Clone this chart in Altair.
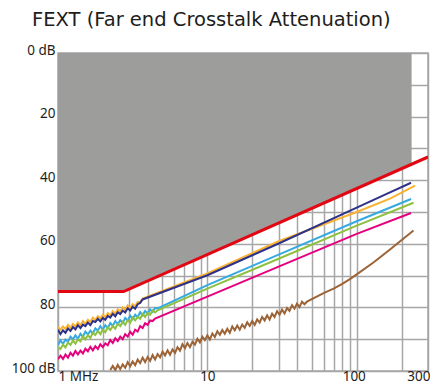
import altair as alt
import pandas as pd

# Frequency sample grid (MHz) used by the measured, noisy low-frequency parts
FREQ_GRID = [
    1.000, 1.039, 1.080, 1.122, 1.166, 1.212, 1.259, 1.308, 1.359, 1.413,
    1.468, 1.525, 1.585, 1.647, 1.711, 1.778, 1.848, 1.920, 1.995, 2.073,
    2.154, 2.239, 2.326, 2.418, 2.512, 2.610, 2.712, 2.818, 2.929, 3.043,
    3.162, 3.286, 3.415, 3.548, 3.687, 3.831, 3.981, 4.137, 4.299, 4.467,
    4.642, 4.824, 5.012, 5.208, 5.412, 5.623, 5.843, 6.072, 6.310, 6.556,
    6.813, 7.079, 7.356, 7.644, 7.943, 8.254, 8.577, 8.913, 9.261, 9.624,
    10.00, 10.39, 10.80, 11.22, 11.66, 12.12, 12.59, 13.08, 13.59, 14.13,
    14.68, 15.25, 15.85, 16.47, 17.11, 17.78, 18.48, 19.20, 19.95, 20.73,
    21.54, 22.39, 23.26, 24.18, 25.12, 26.10, 27.12, 28.18, 29.29, 30.43,
    31.62, 32.86, 34.15, 35.48, 36.87, 38.31, 39.81, 41.37, 42.99, 44.67,
    46.42,
]

# Limit line (dB) and shaded forbidden region
LIMIT_F = [1, 2.75, 300]
LIMIT_DB = [75, 75, 32.7]
AREA_F = [1, 2.75, 233]
AREA_DB = [75, 75, 35.0]

# Orange (starts at grid index 0)
ORANGE_NOISY = [86.2, 87.0, 86.0, 86.8, 85.5, 86.4, 85.2, 86.0, 84.7, 85.6,
                84.3, 85.2, 83.9, 84.6, 83.2, 84.0, 82.8, 83.5, 82.3, 83.0,
                81.8, 82.5, 81.2, 82.0, 80.6, 81.3, 80.0, 80.8, 79.4, 80.2,
                79.0, 79.6, 78.3, 78.4, 77.2]
ORANGE_F = [10, 30, 100, 167, 246]
ORANGE_DB = [69.3, 59.2, 50.0, 45.8, 41.7]

# Navy (starts at grid index 0)
NAVY_NOISY = [87.0, 88.4, 87.2, 88.0, 86.6, 87.4, 86.2, 86.9, 85.6, 86.5,
              85.4, 85.9, 84.8, 85.6, 84.3, 84.6, 83.6, 84.4, 83.3, 83.9,
              82.7, 83.2, 82.0, 82.8, 81.5, 82.1, 81.0, 81.6, 80.3, 81.0,
              79.8, 80.4, 79.0, 78.6, 77.5]
NAVY_F = [10, 30, 100, 160, 231]
NAVY_DB = [69.9, 59.9, 48.6, 44.2, 40.8]

# Cyan (starts at grid index 0)
CYAN_NOISY = [91.8, 90.4, 91.5, 90.1, 90.8, 89.2, 90.0, 88.8, 89.9, 88.3,
              89.2, 87.6, 88.5, 87.3, 88.2, 86.6, 87.3, 85.9, 87.0, 85.6,
              86.5, 84.9, 85.8, 84.3, 85.3, 84.0, 84.9, 83.3, 84.1, 82.6,
              83.7, 82.3, 83.1, 81.5, 82.5, 81.1, 82.0, 80.6, 81.4, 80.2,
              80.3]
CYAN_F = [10, 30, 100, 231]
CYAN_DB = [73.0, 63.4, 52.9, 45.9]

# Green (starts at grid index 0)
GREEN_NOISY = [92.5, 93.1, 91.7, 92.6, 91.0, 91.8, 90.4, 91.4, 90.0, 90.7,
               89.1, 90.0, 88.7, 89.6, 88.0, 88.7, 87.4, 88.4, 87.0, 87.8,
               86.2, 87.1, 85.9, 86.7, 85.1, 85.9, 84.5, 85.5, 84.0, 84.8,
               83.2, 84.1, 82.9, 83.6, 82.1, 83.0, 81.6, 82.3, 81.0, 81.6,
               80.9]
GREEN_F = [10, 30, 100, 240]
GREEN_DB = [74.1, 64.7, 54.3, 47.1]

# Magenta (starts at grid index 0)
MAGENTA_NOISY = [96.3, 95.2, 96.2, 94.8, 95.8, 94.3, 95.2, 93.7, 94.8, 93.6,
                 94.5, 93.0, 93.8, 92.4, 93.5, 92.2, 93.1, 91.6, 92.5, 91.3,
                 91.9, 90.3, 91.2, 89.7, 90.6, 89.2, 90.0, 88.4, 89.2, 87.7,
                 88.6, 87.0, 87.6, 85.9, 86.5, 85.0, 85.5, 84.1, 84.3, 83.5]
MAGENTA_F = [10, 30, 100, 231]
MAGENTA_DB = [76.6, 67.2, 56.9, 50.3]

# Brown (starts at grid index 21)
BROWN_START = 21
BROWN_NOISY = [99.7, 98.4, 99.7, 98.1, 99.4, 97.9, 99.0, 97.2, 98.5, 97.0,
               98.2, 96.4, 97.5, 95.8, 97.2, 95.6, 96.8, 95.0, 96.4, 94.7,
               95.7, 93.9, 95.1, 93.5, 94.9, 93.2, 94.3, 92.5, 93.6, 91.6,
               92.8, 91.2, 92.5, 90.8, 91.7, 89.9, 91.0, 89.2, 90.3, 88.8,
               90.1, 88.2, 89.3, 87.5, 88.6, 87.1, 88.3, 86.7, 88.0, 86.0,
               87.2, 85.7, 87.0, 85.4, 86.4, 84.7, 85.8, 84.3, 85.5, 83.8,
               84.8, 83.0, 84.1, 82.5, 83.8, 82.0, 83.0, 81.2, 82.3, 80.7,
               81.9, 80.2, 81.1, 79.3, 80.4, 78.8, 79.9, 78.2, 79.0, 78.2]
BROWN_F = [60, 70, 80, 90, 100, 130, 167, 200, 240]
BROWN_DB = [75.5, 74.1, 72.6, 71.1, 69.6, 65.8, 61.8, 58.8, 55.8]

X_GRID = [1, 2, 3, 4, 5, 6, 7, 8, 9, 10, 20, 30, 40, 50, 60, 70, 80, 90, 100, 200, 300]
Y_GRID = [0, 10, 20, 30, 40, 50, 60, 70, 80, 90, 100]

SERIES = [
    ("orange", ORANGE_NOISY, 0, ORANGE_F, ORANGE_DB, "#f9b233"),
    ("navy", NAVY_NOISY, 0, NAVY_F, NAVY_DB, "#2e3188"),
    ("cyan", CYAN_NOISY, 0, CYAN_F, CYAN_DB, "#36a9e1"),
    ("green", GREEN_NOISY, 0, GREEN_F, GREEN_DB, "#8dc13f"),
    ("magenta", MAGENTA_NOISY, 0, MAGENTA_F, MAGENTA_DB, "#e6007e"),
    ("brown", BROWN_NOISY, BROWN_START, BROWN_F, BROWN_DB, "#9c6337"),
]

GRID_COLOR = "#a6a6a6"
FONT = "Noto Sans"

x_enc = alt.X(
    "freq:Q",
    scale=alt.Scale(type="log", domain=[1, 300], nice=False),
    axis=alt.Axis(
        values=X_GRID,
        labelExpr="datum.value == 1 ? '1 MHz' : datum.value == 10 ? '10' : datum.value == 100 ? '100' : datum.value == 300 ? '300' : ''",
        labelAlign={"condition": [{"test": "datum.value == 1", "value": "left"},
                                  {"test": "datum.value == 300", "value": "right"}],
                    "value": "center"},
        labelOffset={"condition": [{"test": "datum.value == 300", "value": 2},
                                   {"test": "datum.value == 100", "value": -3}], "value": 0},
        labelOverlap=False,
        labelBound=False,
        labelFlush=False,
        labelBaseline="alphabetic",
        labelPadding=9,
        ticks=False,
        domain=False,
        grid=True,
        title=None,
    ),
)

y_enc = alt.Y(
    "db:Q",
    scale=alt.Scale(domain=[0, 100], reverse=True, nice=False, zero=False),
    axis=alt.Axis(
        values=Y_GRID,
        labelExpr="datum.value == 0 ? '0 dB' : datum.value == 100 ? '100 dB' : datum.value % 20 == 0 ? '' + datum.value : ''",
        labelOverlap=False,
        labelBound=False,
        labelFlush=False,
        labelBaseline="middle",
        labelOffset=-3,
        labelPadding=3,
        ticks=False,
        domain=False,
        grid=True,
        title=None,
    ),
)

area_df = pd.DataFrame({"freq": AREA_F, "db": AREA_DB})
area = alt.Chart(area_df).mark_area(color="#9d9d9c", opacity=1).encode(
    x=x_enc, y=y_enc, y2=alt.datum(0)
)

layers = [area]
for name, noisy, start, sf, sdb, color in SERIES:
    freqs = FREQ_GRID[start:start + len(noisy)] + sf
    dbs = noisy + sdb
    df = pd.DataFrame({"freq": freqs, "db": dbs, "i": list(range(len(freqs)))})
    layers.append(
        alt.Chart(df).mark_line(color=color, strokeWidth=2, clip=True).encode(
            x=x_enc, y=y_enc, order="i:Q"
        )
    )

limit_df = pd.DataFrame({"freq": LIMIT_F, "db": LIMIT_DB})
layers.append(
    alt.Chart(limit_df).mark_line(color="#e30613", strokeWidth=3, clip=True).encode(
        x=x_enc, y=y_enc
    )
)

chart = alt.layer(*layers).properties(
    width=370,
    height=318,
    autosize=alt.AutoSizeParams(type="none"),
    padding={"left": 50, "top": 45, "right": 2, "bottom": 13},
    title=alt.TitleParams(
        "FEXT (Far end Crosstalk Attenuation)",
        anchor="start",
        frame="group",
        dx=-26,
        fontSize=19.5,
        font="DejaVu Sans",
        fontWeight="normal",
        color="#1d1d1b",
        offset=13,
    ),
).configure_view(
    stroke=GRID_COLOR, strokeWidth=1.5
).configure_axis(
    gridColor=GRID_COLOR,
    gridWidth=1.5,
    gridOpacity=1,
    labelFont=FONT,
    labelFontSize=13.5,
    labelColor="#1d1d1b",
)

chart.save("out.html", embed_options={"renderer": "svg", "actions": False})
